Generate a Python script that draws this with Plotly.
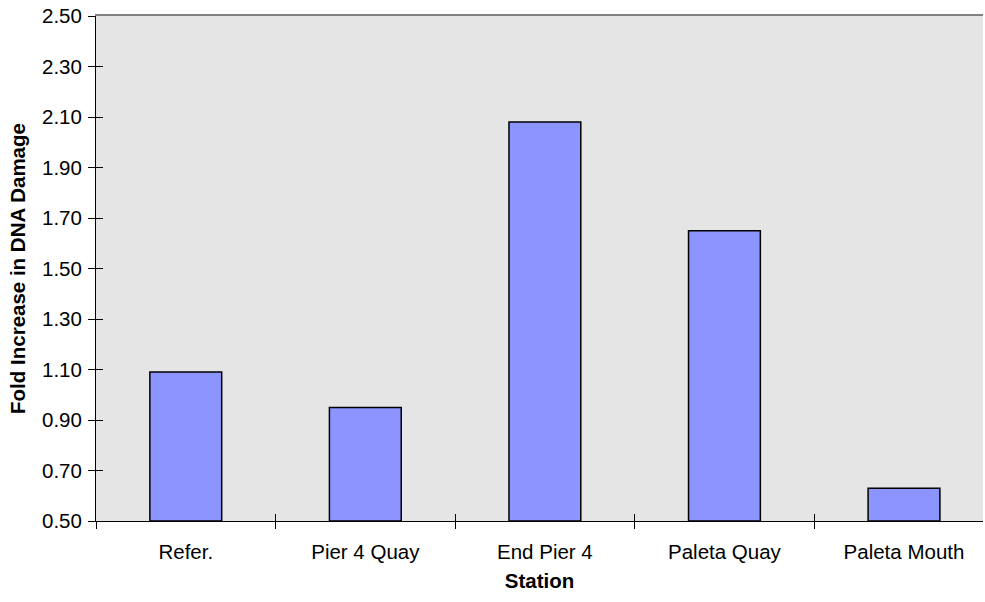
import plotly.graph_objects as go

# Fold increase in DNA damage per sampling station
stations = ["Refer.", "Pier 4 Quay", "End Pier 4", "Paleta Quay", "Paleta Mouth"]
fold_increase = [1.09, 0.95, 2.08, 1.65, 0.63]

y_ticks = [0.5, 0.7, 0.9, 1.1, 1.3, 1.5, 1.7, 1.9, 2.1, 2.3, 2.5]
y_range = [0.5, 2.5]
x_range = [-0.5, 4.44]
boundaries = [-0.5, 0.5, 1.5, 2.5, 3.5]

FONT = "Arial, Liberation Sans, sans-serif"
FS = 20.5

fig = go.Figure()

fig.add_trace(go.Bar(
    x=list(range(len(stations))),
    y=[v - y_range[0] for v in fold_increase],
    base=y_range[0],
    width=0.4,
    marker=dict(color="#8C94FF", line=dict(color="#000000", width=1.5)),
    showlegend=False,
    hoverinfo="skip",
))

# empty helper traces so the overlay axes (tick halves, top border) get drawn
for xa, ya in [("x2", "y"), ("x3", "y"), ("x4", "y"), ("x", "y2")]:
    fig.add_trace(go.Scatter(x=[None], y=[None], xaxis=xa, yaxis=ya,
                             showlegend=False, hoverinfo="skip"))

tick_common = dict(range=x_range, tickmode="array", tickvals=boundaries,
                   ticklen=7, tickwidth=1, tickcolor="#000000",
                   showticklabels=False, showgrid=False, zeroline=False,
                   showline=False)

fig.update_layout(
    width=985, height=602,
    margin=dict(l=96, r=2, t=16, b=81),
    paper_bgcolor="#FFFFFF",
    plot_bgcolor="#E5E5E5",
    font=dict(family=FONT, size=FS, color="#000000"),
    xaxis=dict(
        range=x_range,
        tickmode="array",
        tickvals=list(range(len(stations))),
        ticktext=stations,
        ticks="",
        showgrid=False, zeroline=False,
        showline=True, linecolor="#000000", linewidth=1,
        ticklabelstandoff=12,
        title=dict(text="<b>Station</b>", font=dict(family=FONT, size=FS), standoff=12),
    ),
    xaxis2=dict(overlaying="x", anchor="y", side="bottom", ticks="outside", **tick_common),
    xaxis3=dict(overlaying="x", anchor="y", side="bottom", ticks="inside", **tick_common),
    xaxis4=dict(
        overlaying="x", anchor="y", side="top",
        range=x_range,
        ticks="", showticklabels=False, showgrid=False, zeroline=False,
        showline=True, linecolor="#808080", linewidth=1.5,
    ),
    yaxis=dict(
        range=y_range,
        tickmode="array", tickvals=y_ticks, tickformat=".2f",
        ticks="outside", ticklen=7, tickwidth=1, tickcolor="#000000",
        showgrid=False, zeroline=False,
        showline=True, linecolor="#000000", linewidth=1,
        ticklabelstandoff=2,
        title=dict(text="<b>Fold Increase in DNA Damage</b>",
                   font=dict(family=FONT, size=FS), standoff=10),
    ),
    yaxis2=dict(
        overlaying="y", anchor="x", side="left",
        range=y_range,
        tickmode="array", tickvals=y_ticks,
        ticks="inside", ticklen=7, tickwidth=1, tickcolor="#000000",
        showticklabels=False, showgrid=False, zeroline=False, showline=False,
    ),
)

fig.write_html("out.html")
